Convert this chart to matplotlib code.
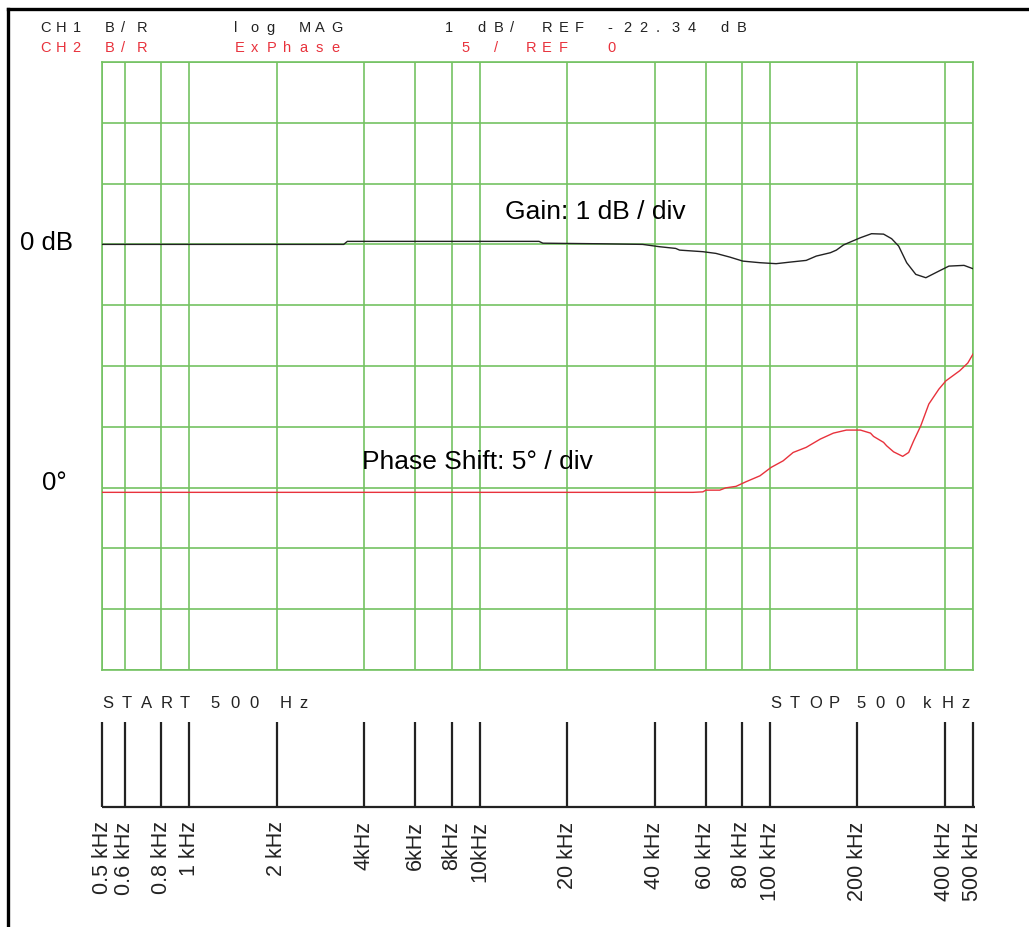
import matplotlib
matplotlib.use('Agg')
import matplotlib.pyplot as plt
from matplotlib.lines import Line2D

plt.rcParams['font.family'] = ['Liberation Sans', 'DejaVu Sans']

# ---------------- data ----------------
grid_freqs_hz = [500, 600, 800, 1000, 2000, 4000, 6000, 8000, 10000, 20000,
                 40000, 60000, 80000, 100000, 200000, 400000, 500000]
tick_labels = ["0.5 kHz", "0.6 kHz", "0.8 kHz", "1 kHz", "2 kHz", "4kHz", "6kHz",
               "8kHz", "10kHz", "20 kHz", "40 kHz", "60 kHz", "80 kHz", "100 kHz",
               "200 kHz", "400 kHz", "500 kHz"]

gain_freq_hz = [500, 3400, 3500, 16000, 16500, 26400, 36400, 41600, 47300, 48800,
                58700, 65100, 72700, 80600, 92300, 104900, 117300, 133200, 144300,
                161300, 169200, 178900, 183200, 204800, 223600, 246000, 262200,
                277300, 295500, 317600, 344000, 381500, 413000, 465600, 500000]
gain_db = [0, 0, 0.05, 0.05, 0.02, 0.01, 0, -0.038, -0.066, -0.094,
           -0.12, -0.148, -0.209, -0.275, -0.301, -0.317, -0.291, -0.263, -0.192,
           -0.137, -0.094, -0.01, 0.012, 0.11, 0.176, 0.169, 0.094,
           -0.028, -0.301, -0.493, -0.548, -0.439, -0.357, -0.345, -0.40]

phase_freq_hz = [500, 54200, 58700, 60100, 67100, 70400, 76300, 82600, 92300,
                 100800, 110900, 120100, 133200, 148900, 165200, 183200, 204800,
                 221800, 227200, 246000, 252000, 266400, 286300, 300200, 312400,
                 330400, 352200, 381500, 403300, 450000, 480000, 500000]
phase_deg = [-0.39, -0.39, -0.35, -0.21, -0.21, -0.02, 0.10, 0.48, 0.97,
             1.66, 2.20, 2.89, 3.31, 3.99, 4.48, 4.73, 4.73,
             4.48, 4.21, 3.72, 3.44, 2.94, 2.57, 2.89, 3.85,
             5.08, 6.87, 8.10, 8.78, 9.61, 10.25, 10.98]

header1 = "CH1 B/R     log MAG      1 dB/ REF -22.34 dB"
header2 = "CH2 B/R     ExPhase       5 / REF  0"

# ---------------- figure ----------------
W, H = 1029, 927
fig = plt.figure(figsize=(W / 100, H / 100), dpi=100)
fig.patch.set_facecolor('white')


def fx(x):
    return x / W


def fy(y):
    return 1 - y / H


GREEN = '#74c262'
RED = '#e8323c'

# main plot
ax = fig.add_axes([fx(102), fy(670), fx(973) - fx(102), fy(62) - fy(670)])
ax.set_xscale('log')
ax.set_xlim(500, 500000)
ax.set_ylim(-7, 3)
for f in grid_freqs_hz:
    ax.axvline(f, color=GREEN, lw=1.2, zorder=1)
for v in range(-7, 4):
    ax.axhline(v, color=GREEN, lw=1.2, zorder=1)
for s in ax.spines.values():
    s.set_color(GREEN)
    s.set_linewidth(1.2)
ax.set_xticks([])
ax.set_yticks([])
ax.minorticks_off()
ax.tick_params(which='both', length=0, labelbottom=False, labelleft=False)
ax.plot(gain_freq_hz, gain_db, color='#222222', lw=1.0, zorder=3)

ax2 = ax.twinx()
ax2.set_ylim(-15, 35)
ax2.set_yticks([])
ax2.tick_params(which='both', length=0)
for s in ax2.spines.values():
    s.set_visible(False)
ax2.plot(phase_freq_hz, phase_deg, color=RED, lw=1.0, zorder=3)

# annotations in plot
fig.text(fx(505), fy(212), "Gain: 1 dB / div", fontsize=19, va='center', ha='left')
fig.text(fx(362), fy(462), "Phase Shift: 5\u00b0 / div", fontsize=19, va='center', ha='left')
fig.text(fx(20), fy(243), "0 dB", fontsize=18.5, va='center', ha='left')
fig.text(fx(42), fy(483), "0\u00b0", fontsize=18.5, va='center', ha='left')


def spaced(s, x0, y, pitch, space, color, size):
    x = x0
    for ch in s:
        if ch == ' ':
            x += space
            continue
        fig.text(fx(x), fy(y), ch, color=color, fontsize=size, ha='left', va='center')
        x += pitch


spaced(header1, 40, 28, 16.2, 16.2, '#222222', 10.5)
spaced(header2, 40, 48, 16.2, 16.2, RED, 10.5)
spaced("START 500 Hz", 102, 703, 19.5, 11, '#222222', 12)
spaced("STOP 500 kHz", 770, 703, 19.5, 8, '#222222', 12)

# frequency scale below
axt = fig.add_axes([fx(102), fy(807), fx(973) - fx(102), fy(722) - fy(807)])
axt.set_xscale('log')
axt.set_xlim(500, 500000)
axt.set_ylim(0, 1)
axt.axis('off')
for f in grid_freqs_hz:
    axt.plot([f, f], [0, 1], color='#222222', lw=1.6, solid_capstyle='butt', clip_on=False)
axt.plot([500, 507000], [0, 0], color='#222222', lw=1.6, solid_capstyle='butt', clip_on=False)
trans = axt.get_xaxis_transform()
for f, lab in zip(grid_freqs_hz, tick_labels):
    axt.text(f, -0.17, lab, transform=trans, rotation=90, ha='center', va='top',
             fontsize=15.5, color='#222222')

# outer frame (left and top visible)
fig.add_artist(Line2D([fx(8), fx(8)], [0, fy(9)], color='black', lw=2.4))
fig.add_artist(Line2D([fx(8), 1], [fy(9), fy(9)], color='black', lw=2.4))

fig.savefig('out.png', dpi=100, facecolor='white')
